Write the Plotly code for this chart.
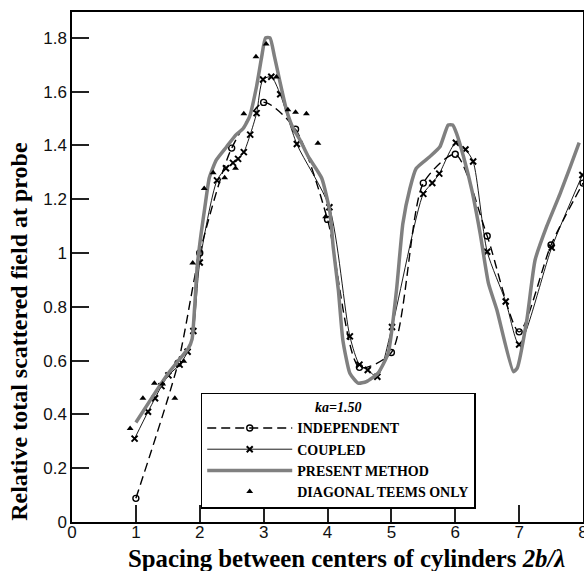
import plotly.graph_objects as go

# ---- data ----
ind_x = [1.0, 1.66, 2.0, 2.5, 3.0, 3.5, 4.0, 4.5, 5.0, 5.5, 6.0, 6.5, 7.0, 7.5, 8.0]
ind_y = [0.088, 0.59, 1.0, 1.39, 1.56, 1.46, 1.125, 0.575, 0.63, 1.26, 1.367, 1.063, 0.707, 1.03, 1.26]

cpl_x = [0.98, 1.19, 1.30, 1.40, 1.51, 1.685, 1.81, 1.90, 2.0, 2.27, 2.41, 2.52, 2.60, 2.69,
         2.79, 2.89, 2.99, 3.12, 3.26, 3.52, 4.03, 4.35, 4.50, 4.63, 4.78, 5.01, 5.50, 5.64,
         5.75, 6.01, 6.16, 6.28, 6.50, 6.79, 7.00, 7.51, 7.99]
cpl_y = [0.31, 0.41, 0.46, 0.505, 0.545, 0.585, 0.633, 0.71, 0.965, 1.27, 1.315, 1.335, 1.35, 1.375,
         1.44, 1.52, 1.645, 1.655, 1.59, 1.405, 1.17, 0.69, 0.585, 0.565, 0.54, 0.725, 1.22, 1.26,
         1.295, 1.41, 1.385, 1.34, 1.005, 0.82, 0.66, 1.02, 1.29]

pm_x = [1.0, 1.3, 1.5, 1.7, 1.82, 1.88, 1.92, 1.96, 2.02, 2.08, 2.15, 2.26, 2.42, 2.57, 2.68, 2.78,
        2.89, 2.97, 3.03, 3.10, 3.17, 3.25, 3.36, 3.46, 3.57, 3.70, 3.91, 4.04, 4.09, 4.17, 4.24,
        4.35, 4.48, 4.61, 4.79, 4.95, 5.08, 5.18, 5.29, 5.39, 5.60, 5.76, 5.89, 5.96, 6.02, 6.13,
        6.26, 6.39, 6.52, 6.65, 6.91, 6.97, 7.12, 7.25, 7.43, 7.64, 7.80, 7.94]
pm_y = [0.37, 0.48, 0.55, 0.61, 0.645, 0.68, 0.80, 0.95, 1.07, 1.17, 1.28, 1.346, 1.395, 1.44,
        1.463, 1.507, 1.62, 1.73, 1.80, 1.80, 1.73, 1.643, 1.53, 1.465, 1.42, 1.358, 1.278, 1.149,
        1.02, 0.862, 0.677, 0.553, 0.516, 0.522, 0.553, 0.627, 0.862, 1.11, 1.24, 1.315, 1.358,
        1.395, 1.476, 1.476, 1.445, 1.358, 1.234, 1.073, 0.887, 0.79, 0.559, 0.572, 0.75, 0.974,
        1.098, 1.22, 1.32, 1.41]

diag_x = [0.91, 1.11, 1.29, 1.42, 1.61, 1.75, 1.89, 2.07, 2.21, 2.39, 2.56, 2.69, 2.88, 3.04,
          3.20, 3.38, 3.50, 3.67, 3.85, 3.97]
diag_y = [0.348, 0.46, 0.516, 0.513, 0.46, 0.598, 0.963, 1.24, 1.298, 1.28, 1.315, 1.518, 1.73,
          1.777, 1.654, 1.533, 1.523, 1.518, 1.408, 1.135]

x_ticks = [0, 1, 2, 3, 4, 5, 6, 7, 8]
y_ticks = [0, 0.2, 0.4, 0.6, 0.8, 1, 1.2, 1.4, 1.6, 1.8]
y_tick_text = ["0", "0.2", "0.4", "0.6", "0.8", "1", "1.2", "1.4", "1.6", "1.8"]

x_title = "<b>Spacing between centers of cylinders <i>2b/λ</i></b>"
y_title = "<b>Relative total scattered field at probe</b>"

fig = go.Figure()

fig.add_trace(go.Scatter(
    x=ind_x, y=ind_y, name="INDEPENDENT", mode="lines+markers",
    line=dict(color="black", width=1.4, dash="9px,5px", shape="spline", smoothing=0.7),
    marker=dict(symbol="circle-open", size=6, color="black", line=dict(width=1.4)),
))
fig.add_trace(go.Scatter(
    x=cpl_x, y=cpl_y, name="COUPLED", mode="lines+markers",
    line=dict(color="black", width=0.9, shape="spline", smoothing=0.7),
    marker=dict(symbol="x-thin", size=6, color="black", line=dict(width=2, color="black")),
))
fig.add_trace(go.Scatter(
    x=pm_x, y=pm_y, name="PRESENT METHOD", mode="lines",
    line=dict(color="#808080", width=3.5, shape="spline", smoothing=0.5),
))
fig.add_trace(go.Scatter(
    x=diag_x, y=diag_y, name="DIAGONAL TEEMS ONLY", mode="markers",
    marker=dict(symbol="triangle-up", size=6, color="black"),
))

serif = "Liberation Serif, Times New Roman, serif"
sans = "Liberation Sans, Arial, sans-serif"

axis_common = dict(
    showline=True, mirror=True, linecolor="black", linewidth=1.5,
    ticks="inside", ticklen=17, tickwidth=1.5, tickcolor="#222",
    showgrid=False, zeroline=False, automargin=False,
    ticklabeloverflow="allow",
    tickfont=dict(family=sans, size=17, color="#111"),
)

fig.update_layout(
    width=584, height=571,
    margin=dict(l=72, r=1, t=12, b=49, autoexpand=False),
    paper_bgcolor="white", plot_bgcolor="white",
    xaxis=dict(range=[0, 8], tickvals=x_ticks, ticklabelstandoff=-6, **axis_common),
    yaxis=dict(range=[0, 1.896], tickvals=y_ticks, ticktext=y_tick_text, **axis_common),
    legend=dict(
        x=0.2519, y=0.2535, xanchor="left", yanchor="top",
        bgcolor="white", bordercolor="black", borderwidth=1.5,
        font=dict(family=serif, size=14, color="black", weight="bold"),
        title=dict(text="<b><i>ka=1.50</i></b>", side="top center",
                   font=dict(family=serif, size=14, color="black")),
        itemwidth=85, tracegroupgap=0,
    ),
    showlegend=True,
    annotations=[
        dict(text=x_title, xref="paper", yref="paper", x=0.538, y=-0.0706,
             xanchor="center", yanchor="middle", showarrow=False,
             font=dict(family=serif, size=24.8, color="black")),
        dict(text=y_title, xref="paper", yref="paper", x=-0.1037, y=0.373,
             xanchor="center", yanchor="middle", showarrow=False, textangle=-90,
             font=dict(family=serif, size=24, color="black")),
    ],
)

fig.write_html("out.html", config={"displayModeBar": False},
               post_script="document.body.style.margin='0';document.body.style.overflow='hidden';")
